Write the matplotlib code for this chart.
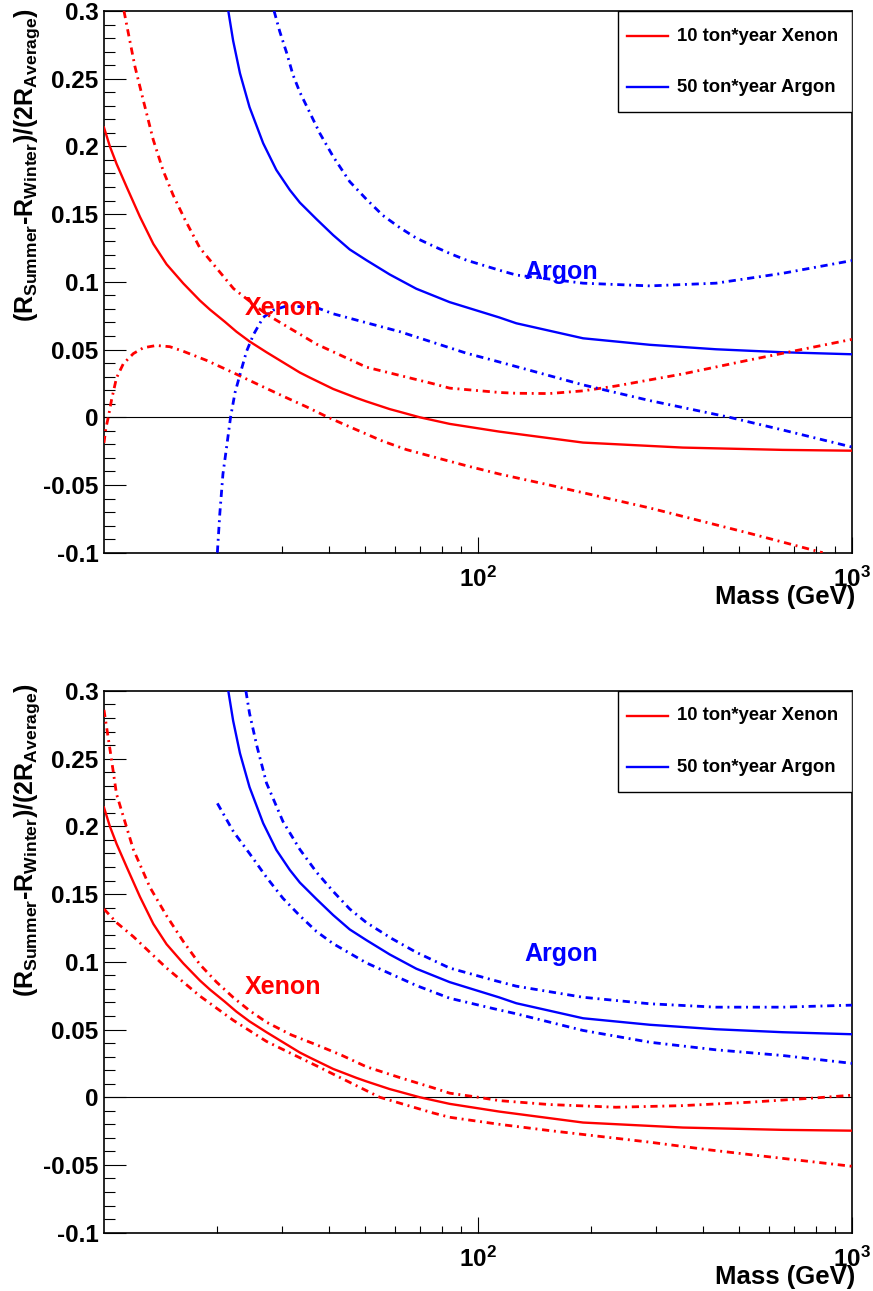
import numpy as np
import matplotlib.pyplot as plt
from matplotlib.patches import Rectangle
from matplotlib.ticker import FixedLocator, NullFormatter

plt.rcParams['font.family'] = ['Liberation Sans', 'DejaVu Sans']
plt.rcParams['font.weight'] = 'bold'
plt.rcParams['mathtext.fontset'] = 'custom'
plt.rcParams['mathtext.rm'] = 'Liberation Sans:bold'
plt.rcParams['mathtext.it'] = 'Liberation Sans:bold'
plt.rcParams['mathtext.bf'] = 'Liberation Sans:bold'
plt.rcParams['axes.unicode_minus'] = False

# --- central curves (same in both panels) ---
xe_mass = [10.0, 10.37, 10.81, 11.5, 12.48, 13.55, 14.7, 16.3, 18.05, 19.2, 21.05,
           22.6, 24.5, 27.2, 33.4, 35.5, 41.0, 47.3, 50.3, 58.1, 61.8, 69.8, 84, 114,
           191, 353, 653, 1000]
xe_mid = [0.214, 0.200, 0.187, 0.170, 0.148, 0.128, 0.113, 0.0988, 0.0862, 0.0795, 0.0705,
          0.0632, 0.0560, 0.0480, 0.0330, 0.0293, 0.0209, 0.0143, 0.0117, 0.006, 0.0040, 0.0,
          -0.0049, -0.0106, -0.0187, -0.0224, -0.0241, -0.0247]

ar_mass = [21.5, 22.15, 23.1, 24.5, 26.65, 28.9, 31.4, 33.4, 37.0, 41.0, 45.4, 50.3, 58.1,
           68.4, 84, 114, 126.6, 191, 288, 433, 653, 1000]
ar_mid = [0.30, 0.278, 0.254, 0.229, 0.2023, 0.1826, 0.1678, 0.1585, 0.1463, 0.1345, 0.1239, 0.116,
          0.1054, 0.0949, 0.085, 0.0737, 0.0694, 0.0583, 0.0535, 0.0502, 0.048, 0.0465]

# --- top panel: dash-dot bands ---
t_xe_hi_m = [11.31, 11.61, 12.1, 12.74, 13.54, 14.4, 15.31, 16.46, 18.05, 22.2, 27.2, 37.0,
             50.3, 75.8, 84, 114, 126.6, 155, 191, 234, 353, 532, 1000]
t_xe_hi = [0.300, 0.284, 0.259, 0.234, 0.205, 0.182, 0.164, 0.146, 0.125, 0.095, 0.076, 0.054,
           0.037, 0.0248, 0.0215, 0.0183, 0.0177, 0.0175, 0.0195, 0.0231, 0.032, 0.0423, 0.0575]
t_xe_lo_m = [10.0, 10.12, 10.27, 10.48, 10.8, 11.26, 11.98, 12.74, 13.8, 15.0, 16.3, 18.8,
             22.2, 26.1, 30.1, 34.8, 39.7, 46.3, 55.7, 64.4, 75.8, 93.1, 114, 155, 288, 532, 835]
t_xe_lo = [-0.019, -0.008, 0.0, 0.013, 0.029, 0.0394, 0.047, 0.0513, 0.053, 0.0521, 0.0487, 0.042,
           0.0328, 0.0236, 0.0156, 0.0077, 0.0, -0.0081, -0.0177, -0.0239, -0.0292, -0.0358,
           -0.0419, -0.050, -0.067, -0.0857, -0.100]
t_ar_hi_m = [28.5, 29.5, 30.8, 32.0, 33.4, 35.5, 37.8, 41.0, 45.4, 50.3, 55.7, 61.8, 68.4,
             75.8, 84, 93.1, 114, 126.6, 191, 288, 433, 653, 1000]
t_ar_hi = [0.30, 0.285, 0.269, 0.253, 0.240, 0.225, 0.2095, 0.1925, 0.174, 0.161, 0.149, 0.140,
           0.1323, 0.1265, 0.121, 0.116, 0.1086, 0.105, 0.099, 0.097, 0.099, 0.1063, 0.1157]
t_ar_lo_m = [20.1, 20.4, 20.8, 21.3, 21.8, 22.4, 23.1, 24.05, 25.1, 26.65, 28.3, 30.8, 37.0,
             41.0, 50.3, 61.8, 75.8, 93.1, 110, 126.6, 191, 288, 470, 653, 1000]
t_ar_lo = [-0.100, -0.0715, -0.042, -0.021, 0.0, 0.018, 0.0315, 0.0486, 0.061, 0.0737, 0.079, 0.0822,
           0.081, 0.0764, 0.0698, 0.0632, 0.0553, 0.0473, 0.042, 0.0374, 0.0239, 0.0123, 0.0,
           -0.0094, -0.022]

# --- bottom panel: dash-dot bands ---
b_xe_hi_m = [10.0, 10.4, 10.8, 11.98, 13.27, 14.7, 16.3, 18.05, 20.0, 22.2, 24.5, 27.2, 31.7,
             37.0, 43.2, 50.3, 61.8, 75.8, 84, 100, 114, 155, 234, 353, 532, 801, 1000]
b_xe_hi = [0.286, 0.255, 0.224, 0.183, 0.155, 0.134, 0.115, 0.098, 0.085, 0.0735, 0.064, 0.0554,
           0.046, 0.0387, 0.031, 0.0225, 0.0145, 0.007, 0.003, 0.0, -0.0025, -0.0054, -0.0074,
           -0.0062, -0.0037, -0.0005, 0.0015]
b_xe_lo_m = [10.0, 10.8, 11.98, 13.27, 14.7, 16.3, 18.05, 22.2, 27.2, 31.7, 37.0, 54.6, 75.8,
             84, 114, 155, 288, 416, 600, 1000]
b_xe_lo = [0.139, 0.129, 0.1186, 0.107, 0.0954, 0.085, 0.0747, 0.0567, 0.0412, 0.0322, 0.0232,
           0.0, -0.0116, -0.0148, -0.020, -0.0246, -0.0332, -0.0389, -0.044, -0.051]
b_ar_hi_m = [23.96, 24.5, 25.6, 27.2, 30.1, 33.4, 37.0, 41.0, 45.4, 50.3, 58.7, 68.4, 84,
             109.7, 126.6, 191, 288, 433, 653, 1000]
b_ar_hi = [0.30, 0.2835, 0.260, 0.232, 0.2036, 0.183, 0.1662, 0.152, 0.139, 0.129, 0.1173, 0.107,
           0.0954, 0.0865, 0.082, 0.0738, 0.069, 0.0665, 0.0665, 0.068]
b_ar_lo_m = [20.1, 22.2, 24.5, 27.2, 30.1, 33.4, 37.0, 41.0, 50.3, 68.4, 84, 109.7,
             126.6, 191, 288, 433, 653, 1000]
b_ar_lo = [0.217, 0.196, 0.180, 0.1624, 0.1469, 0.134, 0.1224, 0.1134, 0.0992, 0.0825, 0.0731,
           0.0655, 0.0616, 0.0493, 0.0406, 0.035, 0.0308, 0.025]

legend_labels = ['10 ton*year Xenon', '50 ton*year Argon']
y_ticks = [-0.1, -0.05, 0.0, 0.05, 0.1, 0.15, 0.2, 0.25, 0.3]
y_tick_labels = ['-0.1', '-0.05', '0', '0.05', '0.1', '0.15', '0.2', '0.25', '0.3']

RED = '#ff0000'
BLUE = '#0000ff'
LW = 1.7
LW_DD = 2.0
DASHDOT = (0, (2.6, 1.7, 0.7, 1.7))

fig = plt.figure(figsize=(8.73, 12.91), dpi=100)
ax1 = fig.add_axes([0.1191, 0.5719, 0.8568, 0.4196])
ax2 = fig.add_axes([0.1191, 0.0452, 0.8568, 0.4196])


def draw_panel(ax, xe_hi_m, xe_hi, xe_lo_m, xe_lo, ar_hi_m, ar_hi, ar_lo_m, ar_lo,
               xe_txt, ar_txt):
    ax.axhline(0, color='black', lw=0.8, zorder=1)
    ax.plot(xe_mass, xe_mid, color=RED, lw=LW, zorder=3)
    ax.plot(ar_mass, ar_mid, color=BLUE, lw=LW, zorder=3)
    for m, v, c in [(xe_hi_m, xe_hi, RED), (xe_lo_m, xe_lo, RED),
                    (ar_hi_m, ar_hi, BLUE), (ar_lo_m, ar_lo, BLUE)]:
        ax.plot(m, v, color=c, lw=LW_DD, linestyle=DASHDOT, zorder=3)

    ax.set_xscale('log')
    ax.set_xlim(10, 1000)
    ax.set_ylim(-0.1, 0.3)

    ax.xaxis.set_major_locator(FixedLocator([100, 1000]))
    ax.set_xticklabels([r'$10^{2}$', r'$10^{3}$'])
    ax.xaxis.set_minor_locator(FixedLocator([20, 30, 40, 50, 60, 70, 80, 90,
                                             200, 300, 400, 500, 600, 700, 800, 900]))
    ax.xaxis.set_minor_formatter(NullFormatter())
    ax.yaxis.set_major_locator(FixedLocator(y_ticks))
    ax.set_yticklabels(y_tick_labels)
    ax.yaxis.set_minor_locator(FixedLocator(np.round(np.arange(-0.1, 0.3001, 0.01), 3)))

    ax.tick_params(axis='y', which='major', direction='in', length=15.8, width=0.8,
                   labelsize=17.5, pad=4)
    ax.tick_params(axis='y', which='minor', direction='in', length=7.9, width=0.8)
    ax.tick_params(axis='x', which='major', direction='in', length=11.5, width=0.8,
                   labelsize=17.5, pad=10)
    ax.tick_params(axis='x', which='minor', direction='in', length=5.3, width=0.8)
    for sp in ax.spines.values():
        sp.set_linewidth(1.2)

    ax.text(xe_txt[0], xe_txt[1], 'Xenon', color=RED, fontsize=18, fontweight='bold',
            ha='left', va='center')
    ax.text(ar_txt[0], ar_txt[1], 'Argon', color=BLUE, fontsize=18, fontweight='bold',
            ha='left', va='center')

    # legend box (ROOT style)
    ax.add_patch(Rectangle((0.687, 0.8136), 0.313, 0.1864, transform=ax.transAxes,
                           facecolor='white', edgecolor='black', lw=1.0, zorder=5))
    for yy, c, lab in [(0.9538, RED, legend_labels[0]), (0.8594, BLUE, legend_labels[1])]:
        ax.plot([0.699, 0.754], [yy, yy], color=c, lw=LW, transform=ax.transAxes, zorder=6)
        ax.text(0.766, yy, lab, fontsize=13.3, fontweight='bold', ha='left', va='center',
                transform=ax.transAxes, zorder=6)

    ax.text(1.004, -0.0818, 'Mass (GeV)', fontsize=18.5, fontweight='bold', ha='right',
            va='center', transform=ax.transAxes)


draw_panel(ax1, t_xe_hi_m, t_xe_hi, t_xe_lo_m, t_xe_lo, t_ar_hi_m, t_ar_hi, t_ar_lo_m, t_ar_lo,
           (23.8, 0.0807), (133, 0.1073))
draw_panel(ax2, b_xe_hi_m, b_xe_hi, b_xe_lo_m, b_xe_lo, b_ar_hi_m, b_ar_hi, b_ar_lo_m, b_ar_lo,
           (23.8, 0.0817), (133, 0.106))

ylab = r'(R$_{Summer}$-R$_{Winter}$)/(2R$_{Average}$)'
fig.text(0.014, 0.9938, ylab, rotation=90, fontsize=18, fontweight='bold', ha='left', va='top')
fig.text(0.014, 0.4710, ylab, rotation=90, fontsize=18, fontweight='bold', ha='left', va='top')

fig.savefig('out.png', dpi=100)
